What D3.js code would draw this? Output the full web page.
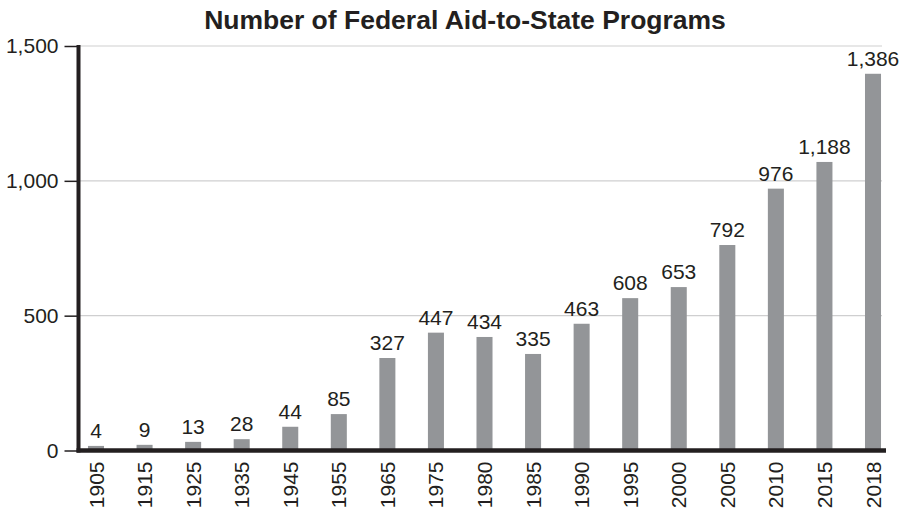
<!DOCTYPE html>
<html>
<head>
<meta charset="utf-8">
<script src="https://cdn.jsdelivr.net/npm/d3@7"></script>
<style>
  body { margin: 0; background: #fff; }
  text { font-family: "Liberation Sans", Arial, Helvetica, sans-serif; fill: #231f20; }
</style>
</head>
<body>
<svg id="chart"></svg>
<script>
const width = 905;
const height = 510;

// data
const years = ["1905", "1915", "1925", "1935", "1945", "1955", "1965", "1975", "1980",
               "1985", "1990", "1995", "2000", "2005", "2010", "2015", "2018"];
// bar heights as drawn
const barValues = [17, 21, 32, 42, 88, 135, 343, 437, 421, 358, 470, 565, 606, 762, 971, 1070, 1397];
// printed labels
const labelValues = [4, 9, 13, 28, 44, 85, 327, 447, 434, 335, 463, 608, 653, 792, 976, 1188, 1386];
const yTicks = [0, 500, 1000, 1500];

const axisX = 78.5;
const baseY = 450.5;

const svg = d3.select("#chart")
    .attr("width", width)
    .attr("height", height);

const xScale = d3.scaleBand()
    .domain(years)
    .range([79, 890])
    .paddingInner(0.67)
    .paddingOuter(0.185);

const yScale = d3.scaleLinear()
    .domain([0, 1500])
    .range([baseY, 46]);

const fmt = d3.format(",");

// gridlines
svg.append("g")
    .selectAll("line")
    .data(yTicks.filter(d => d > 0))
    .enter()
    .append("line")
        .attr("x1", axisX)
        .attr("x2", 882)
        .attr("y1", d => yScale(d))
        .attr("y2", d => yScale(d))
        .attr("stroke", "#cfcfd0")
        .attr("stroke-width", 1.2);

// bars
svg.append("g")
    .selectAll("rect")
    .data(years)
    .enter()
    .append("rect")
        .attr("x", d => xScale(d))
        .attr("width", xScale.bandwidth())
        .attr("y", (d, i) => yScale(barValues[i]))
        .attr("height", (d, i) => baseY - yScale(barValues[i]))
        .attr("fill", "#939598");

// value labels
svg.append("g")
    .selectAll("text")
    .data(years)
    .enter()
    .append("text")
        .attr("x", d => xScale(d) + xScale.bandwidth() / 2)
        .attr("y", (d, i) => yScale(barValues[i]) - 8)
        .style("text-anchor", "middle")
        .style("font-size", "21px")
        .text((d, i) => fmt(labelValues[i]));

// y axis
const yAxis = d3.axisLeft(yScale)
    .tickValues(yTicks)
    .tickFormat(fmt)
    .tickSize(14)
    .tickPadding(6);

const yG = svg.append("g")
    .attr("transform", "translate(" + axisX + ",0)")
    .call(yAxis);
yG.select(".domain").remove();
yG.selectAll(".tick line").attr("stroke", "#231f20").attr("stroke-width", 1.5);
yG.selectAll(".tick text")
    .style("font-size", "21px")
    .attr("fill", "#231f20");

svg.append("line")
    .attr("x1", axisX).attr("x2", axisX)
    .attr("y1", 45).attr("y2", baseY + 2)
    .attr("stroke", "#231f20")
    .attr("stroke-width", 4);

// x axis
const xAxis = d3.axisBottom(xScale)
    .tickSize(0)
    .tickPadding(0);

const xG = svg.append("g")
    .attr("transform", "translate(0," + baseY + ")")
    .call(xAxis);
xG.select(".domain").remove();
xG.selectAll(".tick text")
    .attr("transform", "rotate(-90)")
    .attr("x", -11)
    .attr("y", 0)
    .attr("dy", "0.36em")
    .style("text-anchor", "end")
    .style("font-size", "21px")
    .attr("fill", "#231f20");

svg.append("line")
    .attr("x1", axisX - 2).attr("x2", 886)
    .attr("y1", baseY).attr("y2", baseY)
    .attr("stroke", "#231f20")
    .attr("stroke-width", 4.4);

// title
svg.append("text")
    .attr("x", 465)
    .attr("y", 29)
    .style("text-anchor", "middle")
    .style("font-size", "26.5px")
    .style("font-weight", "bold")
    .text("Number of Federal Aid-to-State Programs");
</script>
</body>
</html>
